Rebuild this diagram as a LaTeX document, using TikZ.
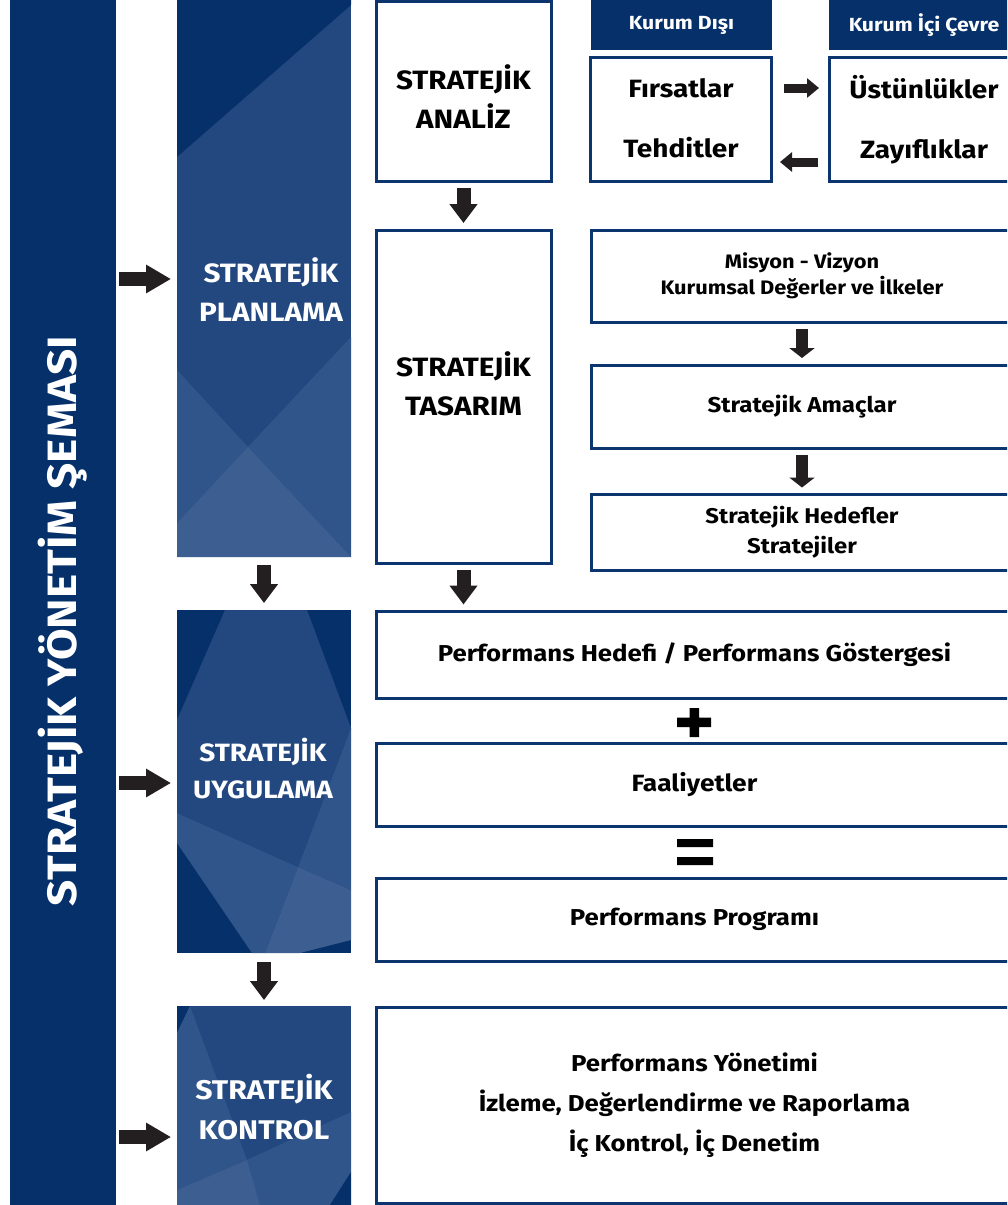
\documentclass[tikz,border=0pt]{standalone}
\usepackage{fontspec}
\setmainfont{Fira Sans}[FakeStretch=1.12]
\usetikzlibrary{arrows.meta,calc}
\definecolor{navy}{HTML}{06306A}
\definecolor{pmed}{HTML}{23487F}
\definecolor{plight}{HTML}{30558A}
\definecolor{plightest}{HTML}{3D5E91}
\definecolor{bord}{HTML}{0C3570}
\definecolor{arr}{HTML}{231F20}
\begin{document}
\begin{tikzpicture}[x=1pt,y=-1pt,
  box/.style={draw=bord, line width=3pt, fill=white, inner sep=0pt, align=center},
  hdr/.style={fill=navy, inner sep=0pt, text=white, font=\fontsize{19}{22}\selectfont\bfseries},
  panel/.style={inner sep=0pt, outer sep=0pt, anchor=north west, minimum width=174pt},
  paneltext/.style={text=white, align=center},
  bigtext/.style={font=\fontsize{26.5}{39}\selectfont\bfseries},
  perftext/.style={font=\fontsize{23}{26}\selectfont\bfseries},
  sidearrow/.style={draw=arr, line width=14pt, -{Triangle[length=25pt,width=27pt]}},
  downarrow/.style={draw=arr, line width=14pt, -{Triangle[length=19pt,width=27pt]}},
  smallarrow/.style={draw=arr, line width=12pt, -{Triangle[length=10pt,width=25pt]}},
  tinyarrow/.style={draw=arr, line width=9pt, -{Triangle[length=12pt,width=19pt]}}
]
\useasboundingbox (0,0) rectangle (1007,1205);
\clip (0,0) rectangle (1007,1205);
\fill[white] (0,0) rectangle (1007,1205);

% left title bar
\node[fill=navy, inner sep=0pt, outer sep=0pt, minimum width=106pt, minimum height=1225pt] (bar) at (63,602.5) {};
\node[rotate=90, text=white, font=\fontsize{41}{48}\selectfont\bfseries] (title) at (63,621) {STRATEJİK YÖNETİM ŞEMASI};

% panel 1: planlama
\node[panel, fill=pmed, minimum height=557pt] (planlama) at (177,0) {};
\fill[navy] (177,0) -- (351,0) -- (351,5) -- (177,157) -- cycle;
\fill[plight] (177,370) -- (248,447) -- (177,523) -- cycle;
\fill[plight] (351,337) -- (248,447) -- (351,557) -- cycle;
\fill[plightest] (248,447) -- (351,557) -- (177,557) -- (177,523) -- cycle;
\node[paneltext, font=\fontsize{26.5}{39}\selectfont\bfseries] (planlabel) at (271,290) {STRATEJİK\\PLANLAMA};

% panel 2: uygulama
\node[panel, fill=navy, minimum height=343pt] (uygulama) at (177,610) {};
\fill[pmed] (225,610) -- (307,610) -- (351,728) -- (298,867) -- (177,813) -- (177,720) -- cycle;
\fill[plight] (351,728) -- (351,890) -- (298,867) -- cycle;
\fill[plight] (177,813) -- (298,867) -- (265,953) -- (252,953) -- (177,843) -- cycle;
\fill[plightest] (298,867) -- (351,890) -- (351,940) -- (300,953) -- (265,953) -- cycle;
\node[paneltext, font=\fontsize{25}{37}\selectfont\bfseries] (uyglabel) at (263,768.5) {STRATEJİK\\UYGULAMA};

% panel 3: kontrol
\node[panel, fill=pmed, minimum height=199pt] (kontrol) at (177,1006) {};
\fill[navy] (177,1006) -- (190,1006) -- (177,1033) -- cycle;
\fill[plight] (190,1006) -- (247,1160) -- (177,1190) -- (177,1033) -- cycle;
\fill[plight] (351,1112) -- (247,1160) -- (260,1205) -- (330,1205) -- (351,1172) -- cycle;
\fill[plightest] (177,1190) -- (247,1160) -- (260,1205) -- (177,1205) -- cycle;
\fill[navy] (351,1172) -- (351,1205) -- (330,1205) -- cycle;
\node[paneltext, font=\fontsize{27}{40}\selectfont\bfseries] (konlabel) at (264,1107.5) {STRATEJİK\\KONTROL};

% left arrows
\coordinate (s1) at (119,279);
\coordinate (s2) at (119,783);
\coordinate (s3) at (119,1137);
\draw[sidearrow] (s1) -- ([xshift=-6pt]s1 -| planlama.west);
\draw[sidearrow] (s2) -- ([xshift=-6pt]s2 -| uygulama.west);
\draw[sidearrow] (s3) -- ([xshift=-6pt]s3 -| kontrol.west);

% analysis and design boxes
\node[box, minimum width=175pt, minimum height=180pt] (analiz) at (463.5,91.5) {};
\node[bigtext, align=center] (analizt) at (463.5,97) {STRATEJİK\\ANALİZ};
\node[box, minimum width=175pt, minimum height=333pt] (tasarim) at (463.5,396.5) {};
\node[bigtext, align=center] (tasarimt) at (463.5,383.5) {STRATEJİK\\TASARIM};

% headers
\node[hdr, minimum width=181pt, minimum height=50pt] (kd) at (681.5,25) {Kurum Dışı};
\node[hdr, minimum width=190pt, minimum height=50pt] (ki) at (924,25) {Kurum İçi Çevre};

% SWOT boxes
\node[box, minimum width=181pt, minimum height=124pt, font=\fontsize{25}{60}\selectfont\bfseries] (firsat) at (681,119.5) {\raisebox{3pt}{Fırsatlar}\\\raisebox{3pt}{Tehditler}};
\node[box, minimum width=190pt, minimum height=124pt, font=\fontsize{25}{60}\selectfont\bfseries] (ustun) at (924,119.5) {Üstünlükler\\Zayıflıklar};
\draw[tinyarrow] ($(firsat.east)+(11,-31.5)$) -- ($(ustun.west)+(-8.5,-31.5)$);
\draw[tinyarrow] ($(ustun.west)+(-9.5,42.5)$) -- ($(firsat.east)+(7,42.5)$);

% design steps
\node[box, minimum width=422pt, minimum height=92pt, font=\fontsize{19.5}{26}\selectfont\bfseries] (misyon) at (802,276) {Misyon - Vizyon\\Kurumsal Değerler ve İlkeler};
\node[box, minimum width=422pt, minimum height=83pt, font=\fontsize{21.5}{26}\selectfont\bfseries] (amac) at (802,406.5) {Stratejik Amaçlar};
\node[box, minimum width=422pt, minimum height=76pt, font=\fontsize{21.3}{30}\selectfont\bfseries] (hedef) at (802,532.5) {Stratejik Hedefler\\Stratejiler};
\draw[smallarrow] ([yshift=-5.5pt]misyon.south) -- ([yshift=5.5pt]amac.north);
\draw[smallarrow] ([yshift=-5.5pt]amac.south) -- ([yshift=5.5pt]hedef.north);
\draw[downarrow] ([yshift=-5pt]analiz.south) -- ([yshift=5.5pt]tasarim.north);

% implementation boxes
\node[box, minimum width=637pt, minimum height=87pt, perftext] (perfh) at (694.5,654.5) {Performans Hedefi / Performans Göstergesi};
\node[box, minimum width=637pt, minimum height=83pt, font=\fontsize{23.5}{26}\selectfont\bfseries] (faal) at (694.5,785) {Faaliyetler};
\node[box, minimum width=637pt, minimum height=83pt, perftext] (perfp) at (694.5,919.5) {Performans Programı};
\node[box, minimum width=637pt, minimum height=196pt, font=\fontsize{23}{40}\selectfont\bfseries] (perfy) at (694.5,1105) {Performans Yönetimi\\İzleme, Değerlendirme ve Raporlama\\İç Kontrol, İç Denetim};

\draw[downarrow] ([yshift=-5.5pt]tasarim.south) -- ([yshift=5pt]tasarim.south |- perfh.north);
\draw[downarrow] ([yshift=-8pt]planlama.south) -- ([yshift=7pt]planlama.south |- uygulama.north);
\draw[downarrow] ([yshift=-9pt]uygulama.south) -- ([yshift=6pt]uygulama.south |- kontrol.north);

% plus and equals
\fill[black] (677,717.5) rectangle (711,727) (689.5,708) rectangle (699,737);
\fill[black] (677,839) rectangle (713,847) (677,857) rectangle (713,865);
\end{tikzpicture}
\end{document}
